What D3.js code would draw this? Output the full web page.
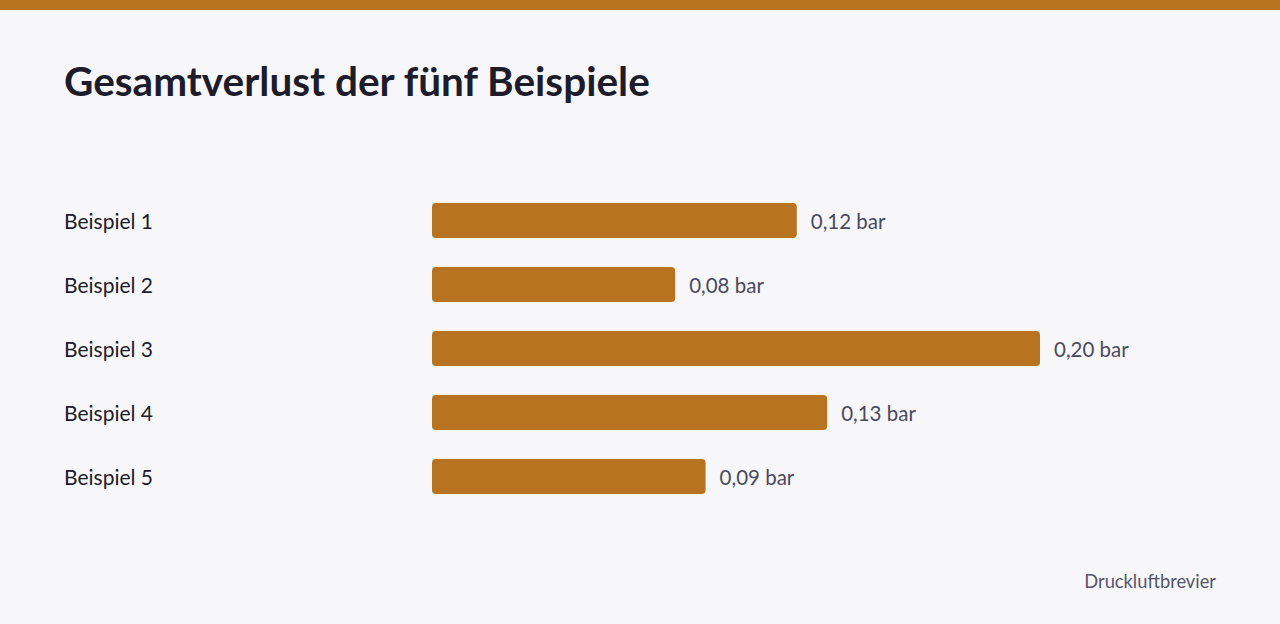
<!DOCTYPE html>
<html><head><meta charset="utf-8">
<script src="https://cdn.jsdelivr.net/npm/d3@7"></script>
<style>
html,body{margin:0;padding:0;background:#f7f7f9;}
svg{display:block;}
</style></head><body>
<svg id="c" width="1280" height="624"></svg>
<script>
const categories = ["Beispiel 1","Beispiel 2","Beispiel 3","Beispiel 4","Beispiel 5"];
const values = [0.12, 0.08, 0.20, 0.13, 0.09];
const valueLabels = ["0,12 bar","0,08 bar","0,20 bar","0,13 bar","0,09 bar"];
const title = "Gesamtverlust der fünf Beispiele";
const source = "Druckluftbrevier";

const FONT = "Lato, 'Noto Sans', sans-serif";
const svg = d3.select("#c");
svg.append("rect").attr("x",0).attr("y",0).attr("width",1280).attr("height",624).attr("fill","#f7f7f9");
svg.append("rect").attr("x",0).attr("y",0).attr("width",1280).attr("height",10).attr("fill","#b87320");

svg.append("text").attr("x",64).attr("y",96).text(title)
  .attr("font-family",FONT).attr("font-weight",700).attr("font-size",40.5).attr("fill","#1c1c2b");

const x = d3.scaleLinear().domain([0,0.2]).range([432,1040]);
const y = d3.scaleBand().domain(categories).range([188.5,508.5]).paddingInner(29/64).paddingOuter(29/128);

const g = svg.append("g");
const rows = g.selectAll("g.row").data(categories).join("g").attr("class","row");
rows.append("rect")
  .attr("x",x(0)).attr("y",d=>y(d))
  .attr("width",(d,i)=>x(values[i])-x(0)).attr("height",y.bandwidth())
  .attr("rx",4).attr("fill","#b87320");
rows.append("text").attr("x",64).attr("y",d=>y(d)+y.bandwidth()/2+1).attr("dy","0.35em")
  .text(d=>d).attr("font-family",FONT).attr("font-size",21).attr("fill","#1c1c2b");
rows.append("text").attr("x",(d,i)=>x(values[i])+14).attr("y",d=>y(d)+y.bandwidth()/2+1).attr("dy","0.35em")
  .text((d,i)=>valueLabels[i]).attr("font-family",FONT).attr("font-size",20.5).attr("fill","#4a4a5e");

svg.append("text").attr("x",1216).attr("y",588).attr("text-anchor","end").text(source)
  .attr("font-family",FONT).attr("font-size",18.3).attr("fill","#55556a");
</script></body></html>
